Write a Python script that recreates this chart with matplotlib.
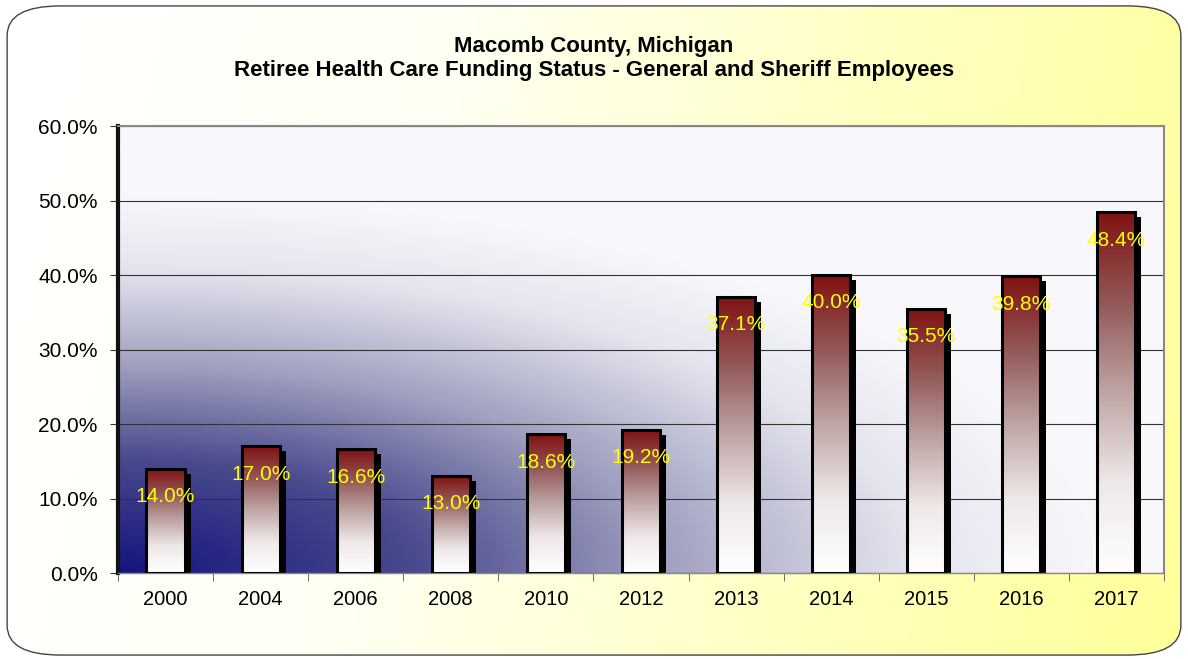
import matplotlib
matplotlib.use("Agg")
import matplotlib.pyplot as plt
import numpy as np
from matplotlib.colors import LinearSegmentedColormap
from matplotlib.patches import FancyBboxPatch
from matplotlib.transforms import offset_copy

# データ
years = ["2000", "2004", "2006", "2008", "2010", "2012", "2013", "2014", "2015", "2016", "2017"]
funded = [14.0, 17.0, 16.6, 13.0, 18.6, 19.2, 37.1, 40.0, 35.5, 39.8, 48.4]
yticks = [0, 10, 20, 30, 40, 50, 60]

title = "Macomb County, Michigan\nRetiree Health Care Funding Status - General and Sheriff Employees"

plt.rcParams["font.family"] = ["Liberation Sans", "DejaVu Sans"]

fig = plt.figure(figsize=(11.88, 6.59), dpi=100)
fig.patch.set_facecolor("white")

# 背景（白→黄色のグラデーション）
bg = fig.add_axes([0, 0, 1, 1], zorder=-10)
bg.axis("off")
gx, gy = np.meshgrid(np.linspace(0, 1, 300), np.linspace(0, 1, 200))
t = np.clip(gx * 0.9 + (1 - gy) * 0.1, 0, 1)
bg_cmap = LinearSegmentedColormap.from_list(
    "bgy", [(0, "#ffffff"), (0.35, "#fffff4"), (0.7, "#ffffc0"), (1, "#ffff99")])
bg_img = bg.imshow(t, cmap=bg_cmap, extent=(0, 1, 0, 1), origin="lower", aspect="auto")
frame = FancyBboxPatch((0.006, 0.006), 0.988, 0.985, boxstyle="round,pad=0,rounding_size=0.045",
                       transform=bg.transAxes, facecolor="none", edgecolor="#444444", linewidth=1.0)
bg.add_patch(frame)
bg_img.set_clip_path(frame)
bg.set_xlim(0, 1)
bg.set_ylim(0, 1)

ax = fig.add_axes([0.0993, 0.1305, 0.8805, 0.6783])
x = np.arange(len(years))
ax.set_xlim(-0.5, len(years) - 0.5)
ax.set_ylim(0, 60)

# プロットエリアの背景（左下が濃い青）
px, py = np.meshgrid(np.linspace(0, 1, 400), np.linspace(0, 1, 300))
d = np.clip(np.sqrt((px / 0.95) ** 2 + (py / 0.85) ** 2), 0, 1)
pa_cmap = LinearSegmentedColormap.from_list(
    "pa", [(0, "#14147e"), (0.3, "#4a4a8e"), (0.55, "#a0a0c0"), (0.8, "#e4e4ee"), (1, "#f8f8fc")])
ax.imshow(d, cmap=pa_cmap, extent=(-0.5, len(years) - 0.5, 0, 60), origin="lower",
          aspect="auto", zorder=0)

ax.yaxis.grid(True, color="#333333", linewidth=0.8, zorder=1)
ax.set_axisbelow(True)

w = 0.4
# 影
shadow_tr = offset_copy(ax.transData, fig=fig, x=6, y=-5, units="dots")
ax.bar(x, funded, width=w, color="black", transform=shadow_tr, zorder=2)

# 棒のグラデーション
bar_cmap = LinearSegmentedColormap.from_list(
    "bar", [(0, "#ffffff"), (0.25, "#efe8e8"), (0.5, "#bfa5a5"), (0.75, "#935858"), (1, "#801212")])
grad = np.linspace(0, 1, 256).reshape(-1, 1)
for xi, v in zip(x, funded):
    ax.imshow(grad, cmap=bar_cmap, extent=(xi - w / 2, xi + w / 2, 0, v), origin="lower",
              aspect="auto", zorder=3)
ax.bar(x, funded, width=w, fill=False, edgecolor="black", linewidth=2.2, zorder=4)

for xi, v in zip(x, funded):
    ax.annotate(f"{v:.1f}%", (xi, v), xytext=(0, -20), textcoords="offset points",
                ha="center", va="center", color="#ffff00", fontsize=15, zorder=5)

ax.set_xlim(-0.5, len(years) - 0.5)
ax.set_ylim(0, 60)
ax.set_xticks(x)
ax.set_xticklabels(years, fontsize=14.5)
ax.set_xticks(np.arange(len(years) + 1) - 0.5, minor=True)
ax.tick_params(axis="x", which="major", length=0, pad=12)
ax.tick_params(axis="x", which="minor", length=6, color="#555555")
ax.set_yticks(yticks)
ax.set_yticklabels([f"{v:.1f}%" for v in yticks], fontsize=15)
ax.tick_params(axis="y", length=6, color="#333333", pad=8.5)

ax.spines["left"].set_linewidth(3)
ax.spines["left"].set_color("#111111")
for s in ["top", "right"]:
    ax.spines[s].set_color("#888888")
    ax.spines[s].set_linewidth(1.5)
ax.spines["bottom"].set_color("#888888")
ax.spines["bottom"].set_linewidth(1.0)

fig.text(0.5, 0.911, title, ha="center", va="center", fontsize=16, fontweight="bold",
         linespacing=1.2)

plt.savefig("out.png", dpi=100)
